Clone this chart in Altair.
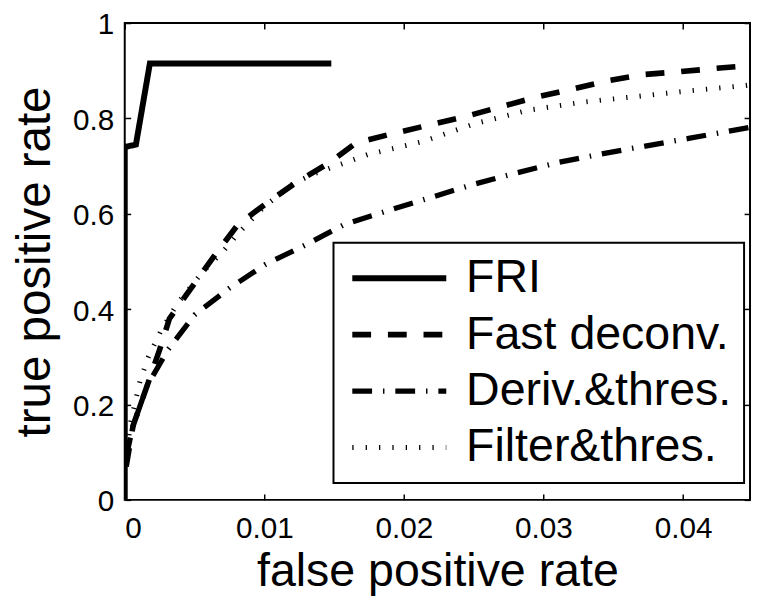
import altair as alt
import pandas as pd

methods = ["FRI", "Fast deconv.", "Deriv.&thres.", "Filter&thres."]

fri_x = [0.0, 0.0, 0.0008, 0.0018, 0.0148]
fri_y = [0.0, 0.74, 0.745, 0.915, 0.915]

fd_x = [0.0001, 0.0006, 0.0016, 0.0025, 0.0032, 0.0049, 0.0065, 0.0081, 0.0102,
        0.0123, 0.0146, 0.0166, 0.0192, 0.0218, 0.0243, 0.0269, 0.0294, 0.032,
        0.0346, 0.0372, 0.0398, 0.0424, 0.045]
fd_y = [0.07, 0.156, 0.239, 0.315, 0.38, 0.45, 0.515, 0.577, 0.623,
        0.666, 0.706, 0.749, 0.768, 0.786, 0.803, 0.824, 0.844, 0.861,
        0.879, 0.892, 0.898, 0.905, 0.911]

dt_x = [0.0001, 0.0006, 0.0016, 0.0031, 0.005, 0.0075, 0.0101, 0.0129, 0.0157,
        0.0188, 0.0218, 0.0249, 0.028, 0.0311, 0.0341, 0.0373, 0.0404, 0.0436, 0.045]
dt_y = [0.09, 0.156, 0.239, 0.315, 0.388, 0.444, 0.494, 0.534, 0.577,
        0.606, 0.633, 0.661, 0.685, 0.708, 0.725, 0.742, 0.758, 0.775, 0.782]

ft_x = [0.0001, 0.0004, 0.0011, 0.0017, 0.0026, 0.0038, 0.0055, 0.0071, 0.0083,
        0.01, 0.0121, 0.0136, 0.0174, 0.0213, 0.0251, 0.0289, 0.0328, 0.0367,
        0.0405, 0.0445, 0.045]
ft_y = [0.08, 0.16, 0.25, 0.30, 0.355, 0.413, 0.475, 0.523, 0.564,
        0.615, 0.664, 0.684, 0.724, 0.751, 0.789, 0.817, 0.834, 0.846,
        0.858, 0.869, 0.871]

x_ticks = [0, 0.01, 0.02, 0.03, 0.04]
y_ticks = [0, 0.2, 0.4, 0.6, 0.8, 1]

dashes = [[1, 0], [19, 17], [20, 11, 1.5, 11], [1.3, 12.2]]
widths = [6, 5, 5, 4.5]

rows = []
for m, xs, ys in zip(methods, [fri_x, fd_x, dt_x, ft_x], [fri_y, fd_y, dt_y, ft_y]):
    for i, (a, b) in enumerate(zip(xs, ys)):
        rows.append({"method": m, "x": a, "y": b, "i": i})
df = pd.DataFrame(rows)

W, H = 632, 482
FONT = "Liberation Sans"
xscale = alt.Scale(domain=[0, 0.0448], nice=False, zero=False)
yscale = alt.Scale(domain=[0, 1], nice=False)

base = alt.Chart(df)

lines = base.mark_line(clip=True, color="black", strokeCap="butt", strokeJoin="miter").encode(
    x=alt.X("x:Q", scale=xscale,
            axis=alt.Axis(values=x_ticks, format="~g", ticks=False, tickSize=0, domain=False,
                          labelPadding=14, labelFontSize=30, labelFont=FONT,
                          title="false positive rate", titleFontSize=47, titleFont=FONT,
                          titleFontWeight="normal", titleBaseline="alphabetic", titleY=87)),
    y=alt.Y("y:Q", scale=yscale,
            axis=alt.Axis(values=y_ticks, format="~g", ticks=False, tickSize=0, domain=False,
                          labelPadding=11, labelFontSize=30, labelFont=FONT, labelOffset=2,
                          title="true positive rate", titleFontSize=48, titleFont=FONT,
                          titleFontWeight="normal", titleBaseline="alphabetic", titleX=-76)),
    strokeDash=alt.StrokeDash("method:N", scale=alt.Scale(domain=methods, range=dashes),
                              legend=alt.Legend(title=None, orient="none", legendX=211, legendY=222,
                                                labelLimit=500)),
    strokeWidth=alt.StrokeWidth("method:N", scale=alt.Scale(domain=methods, range=widths), legend=None),
    order=alt.Order("i:Q"),
)

ticks_a = base.mark_line(opacity=0).encode(
    x=alt.X("x:Q", scale=xscale,
            axis=alt.Axis(orient="top", offset=-H, values=x_ticks, labels=False, domain=False,
                          tickSize=6, title=None)),
    y=alt.Y("y:Q", scale=yscale,
            axis=alt.Axis(orient="right", offset=-W, values=y_ticks, labels=False, domain=False,
                          tickSize=6, title=None)),
    detail="method:N",
)

ticks_b = base.mark_line(opacity=0).encode(
    x=alt.X("x:Q", scale=xscale,
            axis=alt.Axis(orient="bottom", offset=-H, values=x_ticks, labels=False, domain=False,
                          tickSize=6, title=None)),
    y=alt.Y("y:Q", scale=yscale,
            axis=alt.Axis(orient="left", offset=-W, values=y_ticks, labels=False, domain=False,
                          tickSize=6, title=None)),
    detail="method:N",
)

chart = alt.layer(lines, ticks_a, ticks_b).resolve_axis(
    x="independent", y="independent"
).properties(
    width=W, height=H,
    autosize=alt.AutoSizeParams(type="none"),
    padding={"left": 118, "top": 12, "right": 1, "bottom": 96},
).configure_view(
    stroke="black", strokeWidth=2
).configure_axis(
    grid=False, tickColor="black", tickWidth=1.5, labelColor="black", titleColor="black"
).configure_legend(
    strokeColor="black", strokeWidth=2, fillColor="white", padding=12,
    labelFont=FONT, labelFontSize=47, labelColor="black", labelOffset=17, labelLimit=500,
    symbolType="stroke", symbolSize=9025, symbolStrokeWidth=5, symbolStrokeColor="black",
    symbolOffset=4, clipHeight=48, rowPadding=9,
)

chart.save("out.html", embed_options={"renderer": "svg", "actions": False})
